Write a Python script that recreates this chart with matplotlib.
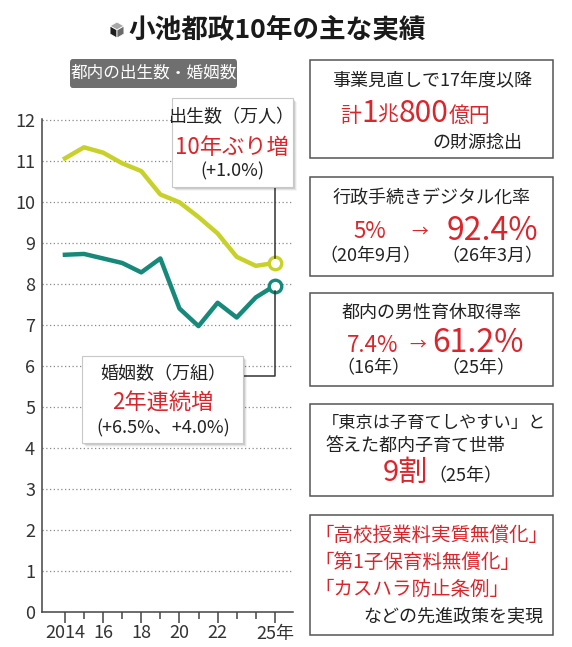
import matplotlib
matplotlib.use('Agg')
import matplotlib.pyplot as plt
from matplotlib.patches import Rectangle, FancyBboxPatch, Polygon
from matplotlib.lines import Line2D

plt.rcParams['font.family'] = ['Noto Sans CJK JP', 'DejaVu Sans']

# data: Tokyo births / marriages (10k)
years = [2014, 2015, 2016, 2017, 2018, 2019, 2020, 2021, 2022, 2023, 2024, 2025]
births = [11.06, 11.33, 11.20, 10.94, 10.75, 10.18, 9.99, 9.63, 9.23, 8.66, 8.44, 8.51]
marriages = [8.71, 8.73, 8.62, 8.51, 8.28, 8.62, 7.40, 6.97, 7.54, 7.18, 7.67, 7.96]
yticks = list(range(0, 13))
xticks_major = [2014, 2016, 2018, 2020, 2022, 2025]
xtick_labels = ['2014', '16', '18', '20', '22', '25年']

W, H = 572, 647
YELLOW = '#c8d12a'
TEAL = '#17897a'
RED = '#d9262c'
DARK = '#222222'

fig = plt.figure(figsize=(W / 100, H / 100), dpi=100)
fig.patch.set_facecolor('white')


def fx(x):
    return x / W


def fy(y):
    return 1 - y / H


def ftext(x, y, s, **kw):
    kw.setdefault('color', DARK)
    kw.setdefault('ha', 'center')
    kw.setdefault('va', 'center')
    return fig.text(fx(x), fy(y), s, **kw)


def box(x0, y0, x1, y1, shadow=False, lw=1.1, ec='#555555', fc='white', z=3):
    if shadow:
        for i, a in enumerate([0.10, 0.07, 0.04]):
            d = i + 2
            fig.patches.append(Rectangle((fx(x0 + d), fy(y1 + d)), fx(x1 - x0), (y1 - y0) / H,
                                         transform=fig.transFigure, fc='black', ec='none',
                                         alpha=a, zorder=z - 0.5))
    fig.patches.append(Rectangle((fx(x0), fy(y1)), fx(x1 - x0), (y1 - y0) / H,
                                 transform=fig.transFigure, fc=fc, ec=ec, lw=lw, zorder=z))


def run_text(x, y, pieces, align='left'):
    """draw pieces [(text, size, color)] one after another on a common baseline"""
    r = fig.canvas.get_renderer()
    arts = []
    cur = x
    for s, size, color in pieces:
        t = fig.text(fx(cur), fy(y), s, fontsize=size, color=color, ha='left',
                     va='baseline', zorder=6)
        bb = t.get_window_extent(renderer=r)
        cur += bb.width
        arts.append(t)
    if align == 'center':
        shift = (cur - x) / 2
        for t in arts:
            px, py = t.get_position()
            t.set_position((px - fx(shift), py))


# title
cx, cy, s = 117, 30, 8
top = [(cx, cy - s), (cx + s * 0.87, cy - s / 2), (cx, cy), (cx - s * 0.87, cy - s / 2)]
left = [(cx - s * 0.87, cy - s / 2), (cx, cy), (cx, cy + s), (cx - s * 0.87, cy + s / 2)]
right = [(cx + s * 0.87, cy - s / 2), (cx, cy), (cx, cy + s), (cx + s * 0.87, cy + s / 2)]
for pts, c in [(top, '#a8a8a8'), (left, '#1e1e1e'), (right, '#6a6a6a')]:
    fig.patches.append(Polygon([(fx(a), fy(b)) for a, b in pts], closed=True,
                               transform=fig.transFigure, fc=c, ec='white', lw=0.6))
ftext(128, 30, '小池都政10年の主な実績', fontsize=19.2, fontweight='bold', ha='left', color='#1a1a1a')

# gray tag
fig.patches.append(FancyBboxPatch((fx(70), fy(88)), fx(167), 29 / H,
                                  boxstyle='round,pad=0,rounding_size=0.005',
                                  transform=fig.transFigure, fc='#6f6f6f', ec='none'))
ftext(153.5, 73.5, '都内の出生数・婚姻数', fontsize=12, color='white')

# main chart
ax = fig.add_axes([fx(42), fy(612), fx(293 - 42), (612 - 119) / H])
ax.set_xlim(2012.8, 2025.95)
ax.set_ylim(0, 12.02)
for sp in ['top', 'right']:
    ax.spines[sp].set_visible(False)
for sp in ['left', 'bottom']:
    ax.spines[sp].set_color('#444444')
    ax.spines[sp].set_linewidth(1.1)
ax.set_yticks(yticks)
ax.set_yticklabels([str(v) for v in yticks], fontsize=13, color='#333333')
ax.tick_params(axis='y', length=0, pad=5)
for v in yticks[1:]:
    ax.axhline(v, color='#8a8a8a', lw=0.9, ls=(0, (1, 2)), zorder=0)
ax.set_xticks(xticks_major)
ax.set_xticklabels(xtick_labels, fontsize=13, color='#333333')
ax.set_xticks([y for y in years if y not in xticks_major], minor=True)
ax.tick_params(axis='x', which='major', length=8, width=1.1, color='#444444', pad=1)
ax.tick_params(axis='x', which='minor', length=5, width=1.1, color='#444444')
ax.set_facecolor('none')

ax.plot(years, births, color=YELLOW, lw=3.2, solid_joinstyle='round', zorder=4)
ax.plot(years, marriages, color=TEAL, lw=3.2, solid_joinstyle='round', zorder=4)
ax.plot(years[-1], births[-1], 'o', ms=9, mfc='white', mec=YELLOW, mew=2.4, zorder=5)
ax.plot(years[-1], marriages[-1], 'o', ms=9, mfc='white', mec=TEAL, mew=2.4, zorder=5)

# connector lines (display pixels -> figure fraction)
fig.canvas.draw()
bx, by = ax.transData.transform((years[-1], births[-1]))
mx, my = ax.transData.transform((years[-1], marriages[-1]))
bpx, bpy = bx, H - by
mpx, mpy = mx, H - my
fig.lines.append(Line2D([fx(bpx), fx(bpx)], [fy(187), fy(bpy - 5)], transform=fig.transFigure,
                        color='#333333', lw=1.1, zorder=2))
fig.lines.append(Line2D([fx(mpx), fx(mpx), fx(243)], [fy(mpy + 5), fy(376), fy(376)],
                        transform=fig.transFigure, color='#333333', lw=1.1, zorder=2))

# births callout
box(172, 98, 293, 187, shadow=True, ec='#c8c8c8', lw=0.8)
ftext(232, 117, '出生数（万人）', fontsize=13)
ftext(232, 147, '10年ぶり増', fontsize=16, color=RED)
ftext(232, 171, '(+1.0%)', fontsize=13)

# marriages callout
box(82, 356, 243, 443, shadow=True, ec='#c8c8c8', lw=0.8)
ftext(163, 374, '婚姻数（万組）', fontsize=13)
ftext(163, 403, '2年連続増', fontsize=16, color=RED)
ftext(163, 428, '(+6.5%、+4.0%)', fontsize=13)

# right panels
box(310, 60, 553, 158)
ftext(432, 80, '事業見直しで17年度以降', fontsize=13)
run_text(340, 122, [('計', 15, RED), ('1', 21.5, RED), ('兆', 15, RED), ('800', 21.5, RED),
                    ('億円', 15, RED)])
ftext(477, 143, 'の財源捻出', fontsize=13)

box(310, 177, 553, 276)
ftext(432, 198, '行政手続きデジタル化率', fontsize=13)
ftext(370, 232, '5%', fontsize=16, color=RED)
ftext(420, 232, '→', fontsize=12, color=RED)
ftext(492, 231, '92.4%', fontsize=23, color=RED)
ftext(370, 256, '（20年9月）', fontsize=13)
ftext(492, 256, '（26年3月）', fontsize=13)

box(310, 293, 553, 386)
ftext(432, 313, '都内の男性育休取得率', fontsize=13)
ftext(373, 345, '7.4%', fontsize=16, color=RED)
ftext(418, 345, '→', fontsize=12, color=RED)
ftext(478, 343, '61.2%', fontsize=23, color=RED)
ftext(373, 368, '（16年）', fontsize=13)
ftext(478, 368, '（25年）', fontsize=13)

box(310, 404, 553, 496)
ftext(322, 423, '「東京は子育てしやすい」と', fontsize=12.4, ha='left')
ftext(325, 446, '答えた都内子育て世帯', fontsize=13, ha='left')
run_text(383, 481, [('9割', 21, RED), ('（25年）', 13, DARK)])

box(310, 515, 553, 635)
ftext(314, 535, '「高校授業料実質無償化」', fontsize=14, ha='left', color=RED)
ftext(314, 562, '「第1子保育料無償化」', fontsize=14, ha='left', color=RED)
ftext(314, 589, '「カスハラ防止条例」', fontsize=14, ha='left', color=RED)
ftext(543, 617, 'などの先進政策を実現', fontsize=13, ha='right')

fig.savefig('out.png', dpi=100)
